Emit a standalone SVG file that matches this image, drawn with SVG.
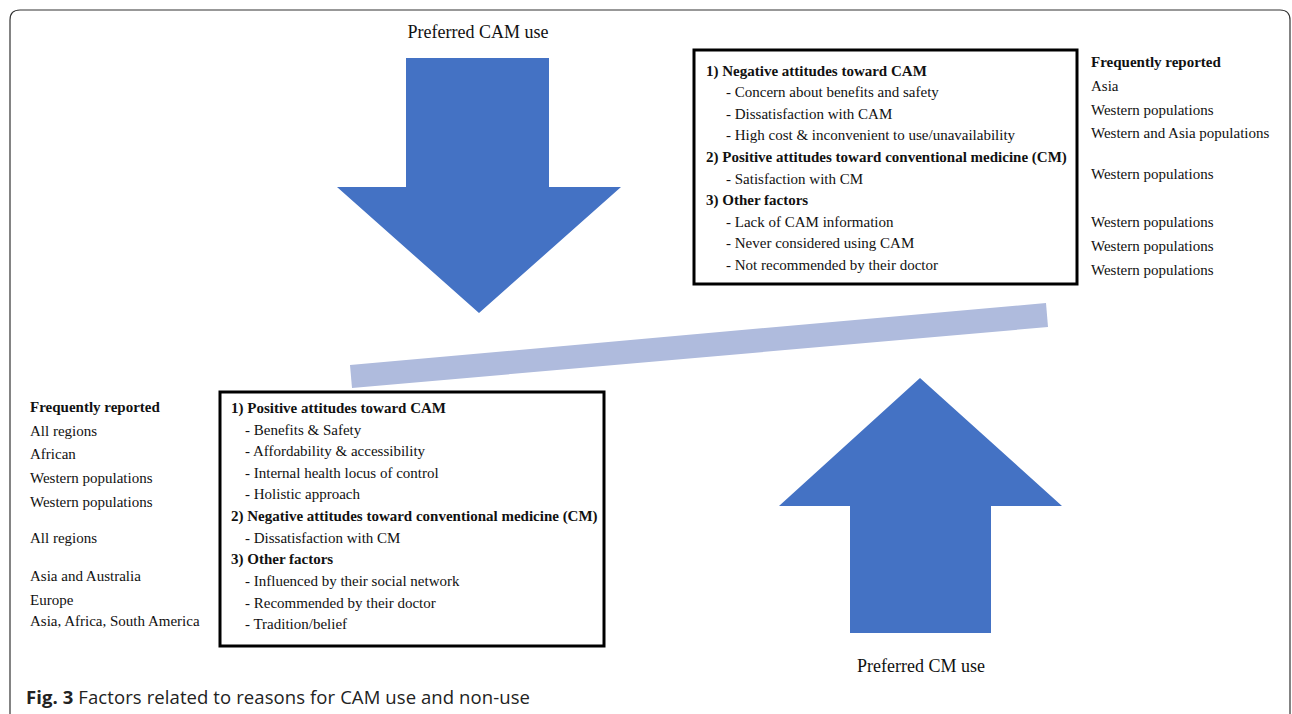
<svg xmlns="http://www.w3.org/2000/svg" width="1292" height="714" viewBox="0 0 1292 714">
<style>
.t{font-family:"Liberation Serif","Times New Roman",serif;font-size:15px;fill:#111}
.b{font-weight:bold}
.lbl{font-family:"Liberation Serif","Times New Roman",serif;font-size:18px;fill:#111}
.box{fill:#fff;stroke:#000;stroke-width:3}
.arr{fill:#4472C4}
</style>
<rect width="1292" height="714" fill="#fff"/>
<path d="M10 724 V20 Q10 10 20 10 H1280 Q1290 10 1290 20 V724" fill="none" stroke="#333" stroke-width="1.2"/>

<g id="arrow-cam">
<polygon class="arr" points="406,58 549,58 549,187 621,187 479,313 337,187 406,187"/>
<text class="lbl" x="478" y="38" text-anchor="middle">Preferred CAM use</text>
</g>
<g id="arrow-cm">
<polygon class="arr" points="920,378 1062,506 991,506 991,633 850,633 850,506 779,506"/>
<text class="lbl" x="921" y="672" text-anchor="middle">Preferred CM use</text>
</g>
<g id="connectors">
<polygon points="350,365 1046,303 1048,327 352,388" fill="#AFBBDD"/>
</g>

<g id="box-nonuse">
<rect class="box" x="694" y="50" width="383" height="234"/>
<text class="t b" x="706" y="76">1) Negative attitudes toward CAM</text>
<text class="t" x="726" y="97">- Concern about benefits and safety</text>
<text class="t" x="726" y="119">- Dissatisfaction with CAM</text>
<text class="t" x="726" y="140">- High cost &amp; inconvenient to use/unavailability</text>
<text class="t b" x="706" y="162">2) Positive attitudes toward conventional medicine (CM)</text>
<text class="t" x="726" y="184">- Satisfaction with CM</text>
<text class="t b" x="706" y="205">3) Other factors</text>
<text class="t" x="726" y="227">- Lack of CAM information</text>
<text class="t" x="726" y="248">- Never considered using CAM</text>
<text class="t" x="726" y="270">- Not recommended by their doctor</text>
</g>
<g id="reported-nonuse">
<text class="t b" x="1091" y="67">Frequently reported</text>
<text class="t" x="1091" y="91">Asia</text>
<text class="t" x="1091" y="115">Western populations</text>
<text class="t" x="1091" y="138">Western and Asia populations</text>
<text class="t" x="1091" y="179">Western populations</text>
<text class="t" x="1091" y="227">Western populations</text>
<text class="t" x="1091" y="251">Western populations</text>
<text class="t" x="1091" y="275">Western populations</text>
</g>

<g id="box-use">
<rect class="box" x="220" y="392" width="384" height="254"/>
<text class="t b" x="231" y="413">1) Positive attitudes toward CAM</text>
<text class="t" x="245" y="435">- Benefits  &amp;  Safety</text>
<text class="t" x="245" y="456">- Affordability &amp; accessibility</text>
<text class="t" x="245" y="478">- Internal health locus of control</text>
<text class="t" x="245" y="499">- Holistic approach</text>
<text class="t b" x="231" y="521">2) Negative attitudes toward conventional medicine (CM)</text>
<text class="t" x="245" y="543">- Dissatisfaction with CM</text>
<text class="t b" x="231" y="564">3) Other factors</text>
<text class="t" x="245" y="586">- Influenced by their social network</text>
<text class="t" x="245" y="608">- Recommended by their doctor</text>
<text class="t" x="245" y="629">- Tradition/belief</text>
</g>
<g id="reported-use">
<text class="t b" x="30" y="412">Frequently reported</text>
<text class="t" x="30" y="436">All regions</text>
<text class="t" x="30" y="459">African</text>
<text class="t" x="30" y="483">Western populations</text>
<text class="t" x="30" y="507">Western populations</text>
<text class="t" x="30" y="543">All regions</text>
<text class="t" x="30" y="581">Asia and Australia</text>
<text class="t" x="30" y="605">Europe</text>
<text class="t" x="30" y="626">Asia, Africa, South America</text>
</g>

<text x="26" y="704" font-family="'Open Sans','Noto Sans',sans-serif" font-size="18.5" fill="#222" textLength="504" lengthAdjust="spacing"><tspan font-weight="bold">Fig. 3</tspan> Factors related to reasons for CAM use and non-use</text>
</svg>
